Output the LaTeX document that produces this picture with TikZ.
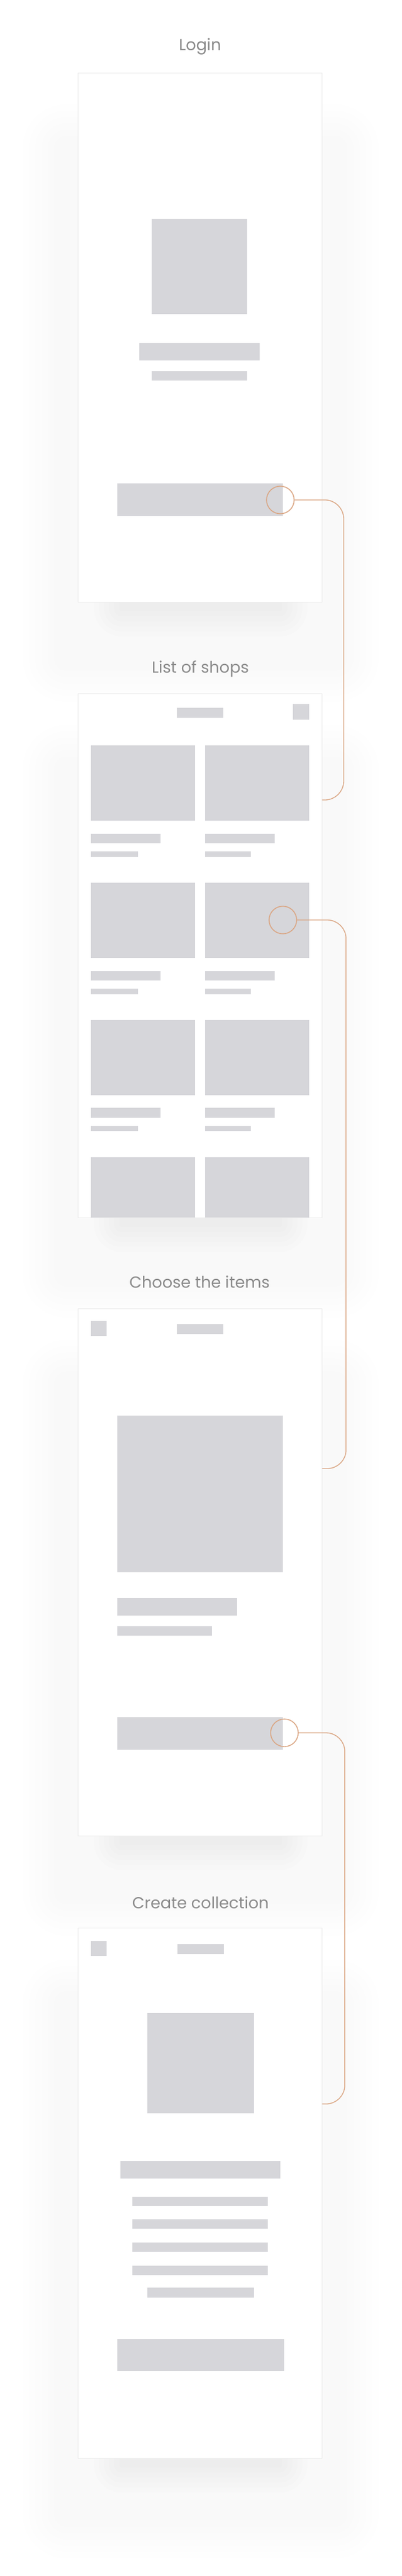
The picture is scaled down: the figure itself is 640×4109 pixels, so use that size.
\documentclass[tikz,border=0pt]{standalone}
\usepackage{fontspec}
\setmainfont{Poppins}
\definecolor{ph}{RGB}{214,214,218}
\definecolor{orng}{RGB}{218,165,130}
\definecolor{ttlc}{RGB}{138,138,138}
\definecolor{cardedge}{RGB}{236,236,236}
\tikzset{
  phbox/.style={fill=ph},
  cardbox/.style={fill=white, draw=cardedge, line width=0.8pt},
  ttl/.style={text=ttlc, anchor=base, inner sep=0pt, font=\fontsize{25.5}{30}\selectfont},
  hotspot/.style={circle, draw=orng, line width=1.4pt, minimum size=44pt, inner sep=0pt},
  conn/.style={draw=orng, line width=1.3pt, rounded corners=30pt},
  shadowlayer/.style={fill=black, fill opacity=#1},
}
\begin{document}
\begin{tikzpicture}[x=1pt,y=-1pt]
\useasboundingbox (0,0) rectangle (640,4109);
\fill[white] (0,0) rectangle (640,4109);

% soft shadows behind the cards
\foreach \t/\b in {116.7/960, 1106.5/1942, 2087.4/2928, 3075.7/3921}{
  \foreach \k in {0,...,5}{
    \fill[shadowlayer=0.004, rounded corners=\k*10+20] (86-\k*10, \t+100-\k*10) rectangle (554+\k*10, \b+110+\k*10);
  }
  \foreach \k in {0,...,5}{
    \fill[shadowlayer=0.006, rounded corners=\k*8+4] (190-\k*8, \b-20-\k*8) rectangle (450+\k*8, \b+15+\k*8);
  }
}

% cards
\path[cardbox] (124.5,116.7) rectangle (513.5,960);
\path[cardbox] (124.5,1106.5) rectangle (513.5,1942);
\path[cardbox] (124.5,2087.4) rectangle (513.5,2928);
\path[cardbox] (124.5,3075.7) rectangle (513.5,3921);

% titles
\node[ttl] (tLogin) at (319,80) {Login};
\node[ttl] (tShops) at (319.5,1073) {List of shops};
\node[ttl] (tItems) at (318.3,2054) {Choose the items};
\node[ttl] (tColl) at (319.8,3044) {Create collection};

% card 1: login
\path[phbox] (242.4,349) rectangle (394.3,501.3);
\path[phbox] (222.4,546.6) rectangle (414.3,575.3);
\path[phbox] (242.4,592) rectangle (394.3,607.2);
\path[phbox] (186.5,770.5) rectangle (451.4,822.8);

% card 2: list of shops
\path[phbox] (282,1129) rectangle (356,1145);
\path[phbox] (467.3,1123) rectangle (493,1148);
\foreach \r in {1189.4,1408.2,1627}{
  \foreach \xa/\xb/\xc/\xd in {145.3/311/256.3/219.6, 327/492.7/437.5/400.4}{
    \path[phbox] (\xa,\r) rectangle (\xb,\r+120);
    \path[phbox] (\xa,\r+140.3) rectangle (\xc,\r+155.6);
    \path[phbox] (\xa,\r+169) rectangle (\xd,\r+177.3);
  }
}
\path[phbox] (145.3,1845.8) rectangle (311,1941.5);
\path[phbox] (327,1845.8) rectangle (492.7,1941.5);

% card 3: choose the items
\path[phbox] (145.3,2106.5) rectangle (169.8,2130.7);
\path[phbox] (282,2111.6) rectangle (356,2127.6);
\path[phbox] (186.5,2257.7) rectangle (451.4,2507.7);
\path[phbox] (186.5,2549) rectangle (377.6,2577.2);
\path[phbox] (186.5,2593.8) rectangle (338.4,2609);
\path[phbox] (186.5,2739) rectangle (451.4,2791);

% card 4: create collection
\path[phbox] (145.3,3095.5) rectangle (170.2,3120);
\path[phbox] (282.9,3101) rectangle (356.7,3117.4);
\path[phbox] (235.1,3210.8) rectangle (404.5,3370.6);
\path[phbox] (191.8,3447) rectangle (447.3,3474.6);
\foreach \y in {3503.6,3540.4,3577,3614}{
  \path[phbox] (211,\y) rectangle (427,\y+15);
}
\path[phbox] (235.1,3649.3) rectangle (404.5,3664.9);
\path[phbox] (187,3730.6) rectangle (452.6,3782.3);

% hotspots
\node[hotspot] (h1) at (447,797.5) {};
\node[hotspot] (h2) at (451,1467.5) {};
\node[hotspot] (h3) at (453.5,2764) {};

% connector targets on the right edge of the next card
\coordinate (e1) at (513.5,1276);
\coordinate (e2) at (513.5,2342.5);
\coordinate (e3) at (513.5,3356);

\draw[conn] (h1.east) -| (548,1276) -- (e1);
\draw[conn] (h2.east) -| (551.8,2342.5) -- (e2);
\draw[conn] (h3.east) -| (549.8,3356) -- (e3);
\end{tikzpicture}
\end{document}
